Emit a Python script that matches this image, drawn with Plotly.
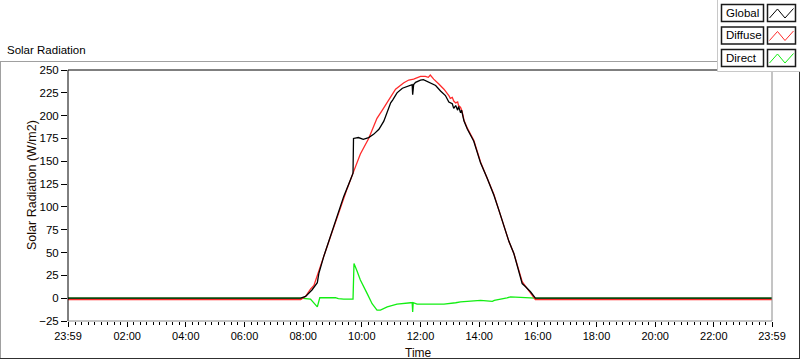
import plotly.graph_objects as go

# ---------------- data ----------------
global_times = ["23:59", "07:55", "08:05", "08:18", "08:29", "08:32", "08:42", "08:56", "09:10",
                "09:23", "09:37", "09:42", "09:43", "09:53", "10:03", "10:11", "10:14", "10:24",
                "10:35", "10:45", "10:59", "11:03", "11:12", "11:23", "11:36", "11:43", "11:44",
                "11:46", "11:50", "12:00", "12:06", "12:14", "12:20", "12:31", "12:41", "12:51",
                "12:58", "13:01", "13:05", "13:08", "13:12", "13:16", "13:18", "13:22", "13:24",
                "13:29", "13:36", "13:49", "14:03", "14:16", "14:30", "14:40", "14:50", "15:01",
                "15:11", "15:21", "15:28", "15:35", "15:45", "15:55", "23:59+"]
global_vals = [0, 0, 2, 9, 17, 27, 45.5, 67.5, 89.5,
               111.5, 130, 137, 175, 176, 174, 175, 176, 179.5,
               185, 194, 214, 217, 225, 230, 233, 234, 223,
               234, 236.5, 239, 239.5, 237.5, 236, 233, 227, 222,
               215, 214, 213, 208, 211, 206, 210, 203, 206,
               194, 185, 172, 148, 132, 113, 97, 80, 62,
               49, 31, 16, 12.5, 7, 0, 0]

diffuse_times = ["23:59", "07:55", "08:05", "08:15", "08:22", "08:32", "08:42", "08:56", "09:10",
                 "09:23", "09:30", "09:42", "09:57", "10:14", "10:31", "10:42", "10:52", "11:09",
                 "11:26", "11:36", "11:46", "12:00", "12:10", "12:16", "12:20", "12:27", "12:37",
                 "12:48", "12:58", "13:01", "13:05", "13:08", "13:12", "13:16", "13:18", "13:22",
                 "13:25", "13:29", "13:36", "13:49", "14:03", "14:16", "14:30", "14:40", "14:50",
                 "15:01", "15:11", "15:21", "15:28", "15:35", "15:45", "15:55", "23:59+"]
diffuse_vals = [-1.5, -1.5, 2, 10, 14, 31, 45.5, 67.5, 89.5,
                111.5, 120, 137, 158, 175, 197, 206, 215, 229,
                236, 239, 240, 243, 243, 242, 244.5, 240, 235,
                229, 222, 219, 220, 216, 214, 215, 211, 209,
                205, 195, 186, 173, 149, 133, 114, 97, 80,
                62, 49, 31, 18, 13, 6, -1.5, -1.5]

direct_times = ["23:59", "07:55", "08:15", "08:29", "08:34", "09:06", "09:12", "09:23", "09:42",
                "09:44", "09:50", "09:57", "10:11", "10:21", "10:31", "10:38", "10:52", "11:12",
                "11:40", "11:43", "11:44", "11:45", "11:53", "12:48", "13:12", "13:22", "14:03",
                "14:27", "14:31", "14:44", "14:57", "15:04", "15:28", "15:55", "23:59+"]
direct_vals = [0, 0, -1, -9.5, 0.5, 0.5, -0.5, -1, -1,
               38, 30, 20, 5, -6, -13, -13, -9.5, -6.6,
               -5, -5, -15, -5, -6.6, -6.6, -5, -4, -2.5,
               -3.5, -2.5, -1.5, 0.3, 1.5, 0.5, 0, 0]

tick_labels = ["23:59", "02:00", "04:00", "06:00", "08:00", "10:00", "12:00",
               "14:00", "16:00", "18:00", "20:00", "22:00", "23:59"]
y_ticks = [-25, 0, 25, 50, 75, 100, 125, 150, 175, 200, 225, 250]
legend_names = ["Global", "Diffuse", "Direct"]
colors = ["#000000", "#ff2b2b", "#12ee12"]


def to_hours(s):
    if s.endswith("+"):
        s = s[:-1]
        h, m = s.split(":")
        return int(h) + int(m) / 60.0
    h, m = s.split(":")
    v = int(h) + int(m) / 60.0
    if s == "23:59":
        return -1 / 60.0
    return v


START = -1 / 60.0
END = 24 - 1 / 60.0
W, H = 800, 361
L, R, T, B = 68, 28, 70, 40
PW, PH = W - L - R, H - T - B


def px(x):
    return (x - L) / PW


def py(y):
    return (H - B - y) / PH


fig = go.Figure()
series = [(direct_times, direct_vals, colors[2]),
          (diffuse_times, diffuse_vals, colors[1]),
          (global_times, global_vals, colors[0])]
for times, vals, c in series:
    fig.add_trace(go.Scatter(x=[to_hours(t) for t in times], y=vals, mode="lines",
                             line=dict(color=c, width=1.3), hoverinfo="skip"))

FONT = "Liberation Sans"
tickvals = [START] + [2 * i for i in range(1, 12)] + [END]

fig.update_layout(
    width=W, height=H, margin=dict(l=L, r=R, t=T, b=B),
    paper_bgcolor="white", plot_bgcolor="white", showlegend=False,
    font=dict(family=FONT, size=11, color="#000"),
    xaxis=dict(range=[START, END], tickmode="array", tickvals=tickvals, ticktext=tick_labels,
               ticks="outside", ticklen=5, tickcolor="#000", tickwidth=1,
               showgrid=False, zeroline=False, showline=False,
               tickfont=dict(family=FONT, size=11, color="#000"),
               minor=dict(tickmode="linear", tick0=0, dtick=2 / 9, ticks="outside",
                          ticklen=3, tickcolor="#000", showgrid=False)),
    yaxis=dict(range=[-25, 250], tickmode="array", tickvals=y_ticks,
               ticks="outside", ticklen=6, tickcolor="#000", tickwidth=1,
               showgrid=False, zeroline=False, showline=False,
               tickfont=dict(family=FONT, size=11.5, color="#000")),
)

shapes = []


def line(x0, y0, x1, y1, color, width=1):
    shapes.append(dict(type="line", xref="paper", yref="paper", x0=px(x0), y0=py(y0),
                       x1=px(x1), y1=py(y1), line=dict(color=color, width=width), layer="above"))


# outer frame
line(0, 61.5, 800, 61.5, "#a0a0a0")
line(0.5, 61.5, 0.5, 358.5, "#a0a0a0")
line(0, 358.5, 800, 358.5, "#303030")
line(799.5, 61.5, 799.5, 358.5, "#303030")
# plot borders
line(L, T, L + PW, T, "#000")
line(L, T, L, T + PH, "#000")
line(L + PW, T, L + PW, T + PH, "#8a8a8a")
line(L, T + PH, L + PW, T + PH, "#8a8a8a")

# legend panel
shapes.append(dict(type="rect", xref="paper", yref="paper", x0=px(717), y0=py(71.5),
                   x1=px(801), y1=py(-1), fillcolor="white", line=dict(width=0), layer="above"))
line(717.5, 0, 717.5, 71.5, "#c8c8c8")
line(717.5, 71.5, 800, 71.5, "#c8c8c8")

annotations = []
row_tops = [4.5, 27, 49.5]
for name, c, top in zip(legend_names, colors, row_tops):
    bot = top + 17
    shapes.append(dict(type="rect", xref="paper", yref="paper", x0=px(721.5), y0=py(bot),
                       x1=px(763.5), y1=py(top), line=dict(color="#1a1a1a", width=1.5),
                       fillcolor="white", layer="above"))
    shapes.append(dict(type="rect", xref="paper", yref="paper", x0=px(767.5), y0=py(bot),
                       x1=px(795.5), y1=py(top), line=dict(color="#1a1a1a", width=1.5),
                       fillcolor="white", layer="above"))
    pts = [(769.5, bot - 3.5), (777.5, top + 4.5), (785, bot - 3.5), (793.5, top + 4)]
    path = "M " + " L ".join(f"{px(a):.5f},{py(b):.5f}" for a, b in pts)
    shapes.append(dict(type="path", xref="paper", yref="paper", path=path,
                       line=dict(color=c, width=1), layer="above"))
    annotations.append(dict(text=name, xref="paper", yref="paper", x=px(724), y=py((top + bot) / 2),
                            xanchor="left", yanchor="middle", showarrow=False,
                            font=dict(family=FONT, size=11.5, color="#000")))

annotations.append(dict(text="Solar Radiation", xref="paper", yref="paper", x=px(5), y=py(50),
                        xanchor="left", yanchor="middle", showarrow=False,
                        font=dict(family=FONT, size=11.5, color="#000")))
annotations.append(dict(text="Solar Radiation (W/m2)", xref="paper", yref="paper", x=px(32),
                        y=py(185), xanchor="center", yanchor="middle", textangle=-90,
                        showarrow=False, font=dict(family=FONT, size=12.5, color="#1a0a00")))
annotations.append(dict(text="Time", xref="paper", yref="paper", x=px(418), y=py(353),
                        xanchor="center", yanchor="middle", showarrow=False,
                        font=dict(family=FONT, size=12, color="#1a0a00")))

fig.update_layout(shapes=shapes, annotations=annotations)
fig.write_html("out.html", config={"displayModeBar": False},
               post_script="document.body.style.margin='0';document.body.style.overflow='hidden';")
